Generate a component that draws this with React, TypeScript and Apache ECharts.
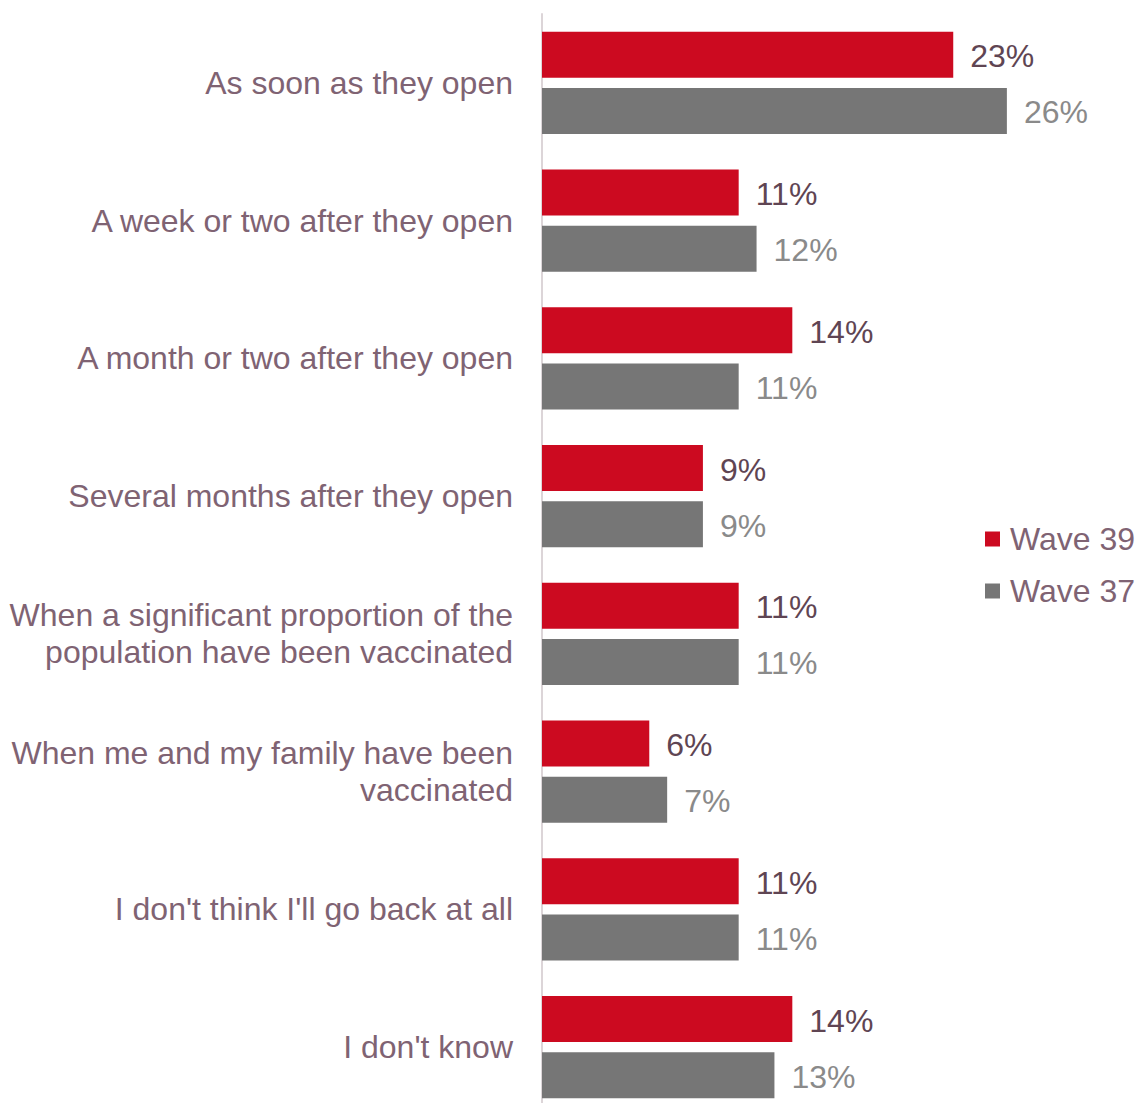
import React, { useEffect, useRef } from "react";
import * as echarts from "echarts";

const categories = [
  "As soon as they open",
  "A week or two after they open",
  "A month or two after they open",
  "Several months after they open",
  "When a significant proportion of the\npopulation have been vaccinated",
  "When me and my family have been\nvaccinated",
  "I don't think I'll go back at all",
  "I don't know",
];
const wave39 = [23, 11, 14, 9, 11, 6, 11, 14];
const wave37 = [26, 12, 11, 9, 11, 7, 11, 13];

const FONT = "'Liberation Sans', Arial, sans-serif";

export default function App() {
  const ref = useRef<HTMLDivElement>(null);
  useEffect(() => {
    if (!ref.current) return;
    const chart = echarts.init(ref.current, null, { renderer: "svg" });
    chart.setOption({
      animation: false,
      backgroundColor: "#ffffff",
      textStyle: { fontFamily: FONT },
      legend: {
        orient: "vertical",
        left: 985,
        top: 523,
        padding: 0,
        itemWidth: 15,
        itemHeight: 15,
        itemGap: 20,
        icon: "rect",
        textStyle: { fontSize: 32, color: "#7F6373", fontFamily: FONT, lineHeight: 32, padding: [0, 0, 0, 5] },
        data: ["Wave 39", "Wave 37"],
      },
      grid: { left: 542, top: 14, width: 536.4, height: 1102, containLabel: false },
      xAxis: {
        type: "value",
        min: 0,
        max: 30,
        show: false,
      },
      yAxis: {
        type: "category",
        inverse: true,
        data: categories,
        axisLine: { show: true, lineStyle: { color: "#DCD5D8", width: 2 } },
        axisTick: { show: false },
        axisLabel: {
          margin: 29,
          fontSize: 32,
          color: "#7F6373",
          fontFamily: FONT,
          lineHeight: 37,
          align: "right",
        },
        splitLine: { show: false },
      },
      series: [
        {
          name: "Wave 39",
          type: "bar",
          data: wave39,
          barWidth: 46,
          barGap: "22%",
          itemStyle: { color: "#CC0A20" },
          label: {
            show: true,
            position: "right",
            distance: 17,
            offset: [0, 1.5],
            formatter: "{c}%",
            fontSize: 32,
            color: "#5F4553",
            fontFamily: FONT,
          },
        },
        {
          name: "Wave 37",
          type: "bar",
          data: wave37,
          barWidth: 46,
          barGap: "22%",
          itemStyle: { color: "#767676" },
          label: {
            show: true,
            position: "right",
            distance: 17,
            offset: [0, 1.5],
            formatter: "{c}%",
            fontSize: 32,
            color: "#8A8A8A",
            fontFamily: FONT,
          },
        },
      ],
    });
    return () => chart.dispose();
  }, []);
  return (
    <div
      ref={ref}
      style={{ position: "fixed", left: 0, top: 0, width: 1137, height: 1130, background: "#fff" }}
    />
  );
}
